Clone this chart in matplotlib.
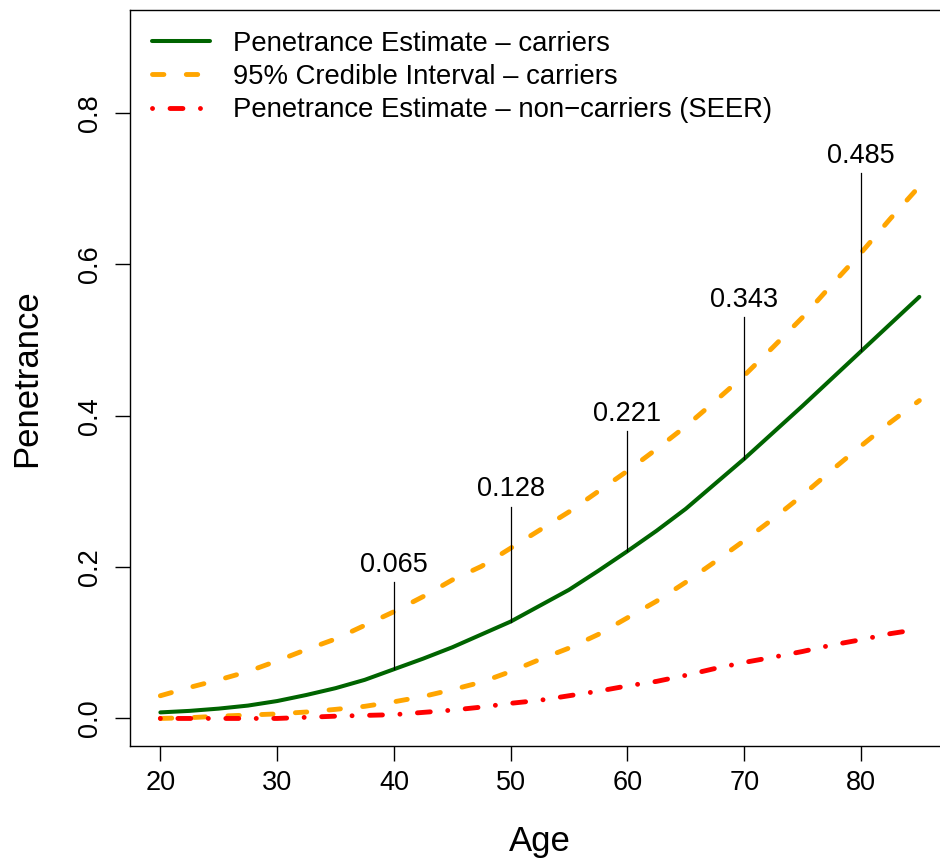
import matplotlib
matplotlib.use("Agg")
import matplotlib.pyplot as plt

plt.rcParams["font.family"] = ["Liberation Sans", "DejaVu Sans"]

ages = [20, 22.5, 25, 27.5, 30, 32.5, 35, 37.5, 40, 42.5, 45, 47.5, 50, 52.5,
        55, 57.5, 60, 62.5, 65, 67.5, 70, 72.5, 75, 77.5, 80, 82.5, 85]
carrier = [0.008, 0.010, 0.013, 0.017, 0.023, 0.031, 0.040, 0.051, 0.065, 0.079,
           0.094, 0.111, 0.128, 0.149, 0.170, 0.195, 0.221, 0.248, 0.277, 0.310,
           0.343, 0.378, 0.413, 0.449, 0.485, 0.521, 0.557]
ci_upper = [0.030, 0.041, 0.051, 0.062, 0.076, 0.091, 0.105, 0.123, 0.141, 0.161,
            0.183, 0.201, 0.225, 0.249, 0.273, 0.300, 0.327, 0.356, 0.386, 0.419,
            0.453, 0.491, 0.530, 0.573, 0.615, 0.660, 0.703]
ci_lower = [0.000, 0.001, 0.003, 0.0045, 0.006, 0.0085, 0.012, 0.016, 0.022, 0.029,
            0.038, 0.048, 0.062, 0.078, 0.093, 0.111, 0.133, 0.155, 0.180, 0.207,
            0.235, 0.264, 0.295, 0.328, 0.360, 0.391, 0.420]
seer = [0.000, 0.000, 0.000, 0.000, 0.000, 0.0015, 0.003, 0.004, 0.005, 0.008,
        0.011, 0.015, 0.020, 0.024, 0.030, 0.036, 0.043, 0.049, 0.057, 0.066,
        0.074, 0.081, 0.0885, 0.097, 0.104, 0.112, 0.118]

mark_ages = [40, 50, 60, 70, 80]
mark_values = [0.065, 0.128, 0.221, 0.343, 0.485]
mark_tops = [0.18, 0.28, 0.38, 0.53, 0.72]

fig = plt.figure(figsize=(9.4, 8.63), dpi=100)
ax = fig.add_axes([130 / 940, 117.3 / 863, 819.7 / 940, 735.7 / 863])

ax.plot(ages, carrier, color="darkgreen", lw=2.9, solid_capstyle="round",
        label="Penetrance Estimate \u2013 carriers")
ax.plot(ages, ci_upper, color="orange", lw=3.5, ls=(0, (2.35, 4.6)),
        dash_capstyle="round", label="95% Credible Interval \u2013 carriers")
ax.plot(ages, ci_lower, color="orange", lw=3.5, ls=(0, (2.35, 4.6)),
        dash_capstyle="round")
ax.plot(ages, seer, color="red", lw=3.5, ls=(0, (0.01, 3.6, 2.65, 3.6)),
        dash_capstyle="round", label="Penetrance Estimate \u2013 non\u2212carriers (SEER)")

for a, v, t in zip(mark_ages, mark_values, mark_tops):
    ax.plot([a, a], [v, t], color="black", lw=0.9)
    ax.annotate(f"{v:.3f}", (a, t), xytext=(0, 3), textcoords="offset points",
                ha="center", va="bottom", fontsize=19.5)

ax.set_xlim(17.4, 87.6)
ax.set_ylim(-0.036, 0.936)
ax.set_xticks([20, 30, 40, 50, 60, 70, 80])
ax.set_yticks([0.0, 0.2, 0.4, 0.6, 0.8])
ax.set_yticklabels(["0.0", "0.2", "0.4", "0.6", "0.8"], rotation=90, va="center")
ax.tick_params(direction="out", length=10.5, width=1.0, labelsize=19.5, pad=7)
ax.tick_params(axis="y", pad=9)
for s in ax.spines.values():
    s.set_linewidth(1.0)

ax.set_xlabel("Age", fontsize=25, labelpad=21)
ax.set_ylabel("Penetrance", fontsize=25, labelpad=24)

ax.legend(loc="upper left", bbox_to_anchor=(0.027, 0.972), frameon=False,
          borderaxespad=0, borderpad=0, fontsize=19.8, handlelength=2.1,
          handletextpad=0.85, labelspacing=0.27)

fig.savefig("out.png", dpi=100)
